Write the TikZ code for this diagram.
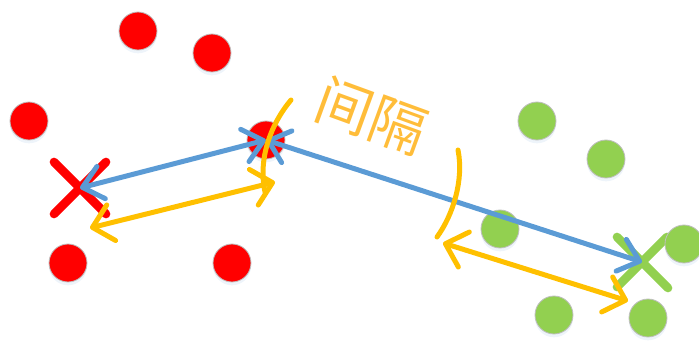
\documentclass[tikz,border=0pt]{standalone}
\usepackage{fontspec}
\newfontfamily\cjk{Noto Sans CJK SC}
\usetikzlibrary{arrows.meta, shadows}
\definecolor{ptred}{HTML}{FF0000}
\definecolor{ptgreen}{HTML}{92D050}
\definecolor{linkblue}{HTML}{5B9BD5}
\definecolor{gaporange}{HTML}{FFC000}
\definecolor{txtorange}{HTML}{FFBD3A}
\begin{document}
\begin{tikzpicture}[
  x=0.03cm, y=-0.03cm,
  pt/.style={circle, draw=black!25, line width=0.7pt, minimum size=1.14cm, inner sep=0pt,
             drop shadow={shadow xshift=0pt, shadow yshift=-0.1cm, fill=linkblue!35, opacity=0.3}},
  cross/.style={line width=0.26cm, line cap=round},
  link/.style={{Straight Barb[length=0.58cm, width=1cm, round]}-{Straight Barb[length=0.58cm, width=1cm, round]},
               linkblue, line width=0.15cm},
  gap/.style={{Straight Barb[length=0.58cm, width=1.1cm, round]}-{Straight Barb[length=0.58cm, width=1.1cm, round]},
              gaporange, line width=0.15cm},
  bracket/.style={gaporange, line width=0.15cm, line cap=round}
]
  \clip (0,0) rectangle (699,345);

  % cluster centres
  \coordinate (redx)   at (80,188);
  \coordinate (greenx) at (642,262);
  \draw[cross,ptred]   (54,162) -- (106,214) (106,162) -- (54,214);
  \draw[cross,ptgreen] (617,237) -- (668,288) (667,237) -- (617,287);

  % red points
  \node[pt,fill=ptred] (r1) at (138,31)  {};
  \node[pt,fill=ptred] (r2) at (212,53)  {};
  \node[pt,fill=ptred] (r3) at (29,121)  {};
  \node[pt,fill=ptred] (r4) at (266,140) {};
  \node[pt,fill=ptred] (r5) at (68,263)  {};
  \node[pt,fill=ptred] (r6) at (232,263) {};

  % green points
  \node[pt,fill=ptgreen] (g1) at (537,121) {};
  \node[pt,fill=ptgreen] (g2) at (606,159) {};
  \node[pt,fill=ptgreen] (g3) at (500,229) {};
  \node[pt,fill=ptgreen] (g4) at (684,244) {};
  \node[pt,fill=ptgreen] (g5) at (554,315) {};
  \node[pt,fill=ptgreen] (g6) at (648,318) {};

  % distances to the boundary point
  \draw[link] (redx) -- (r4.center);
  \draw[link] (r4.center) -- (greenx);

  % margin
  \coordinate (gapA1) at (90,228);
  \coordinate (gapA2) at (275,182);
  \coordinate (gapB1) at (443,243);
  \coordinate (gapB2) at (628,301);
  \draw[gap] (gapA1) -- (gapA2);
  \draw[gap] (gapB1) -- (gapB2);

  \coordinate (arcA1) at (291,100);
  \coordinate (arcA2) at (265,192);
  \coordinate (arcB1) at (458,150);
  \coordinate (arcB2) at (437,237);
  \draw[bracket] (arcA1) .. controls (270,125) and (258,160) .. (arcA2);
  \draw[bracket] (arcB1) .. controls (464,180) and (453,215) .. (arcB2);

  \node[rotate=-20, text=txtorange, font=\cjk\fontsize{48}{48}\selectfont] (gaplabel) at (372,116) {间隔};
\end{tikzpicture}
\end{document}
